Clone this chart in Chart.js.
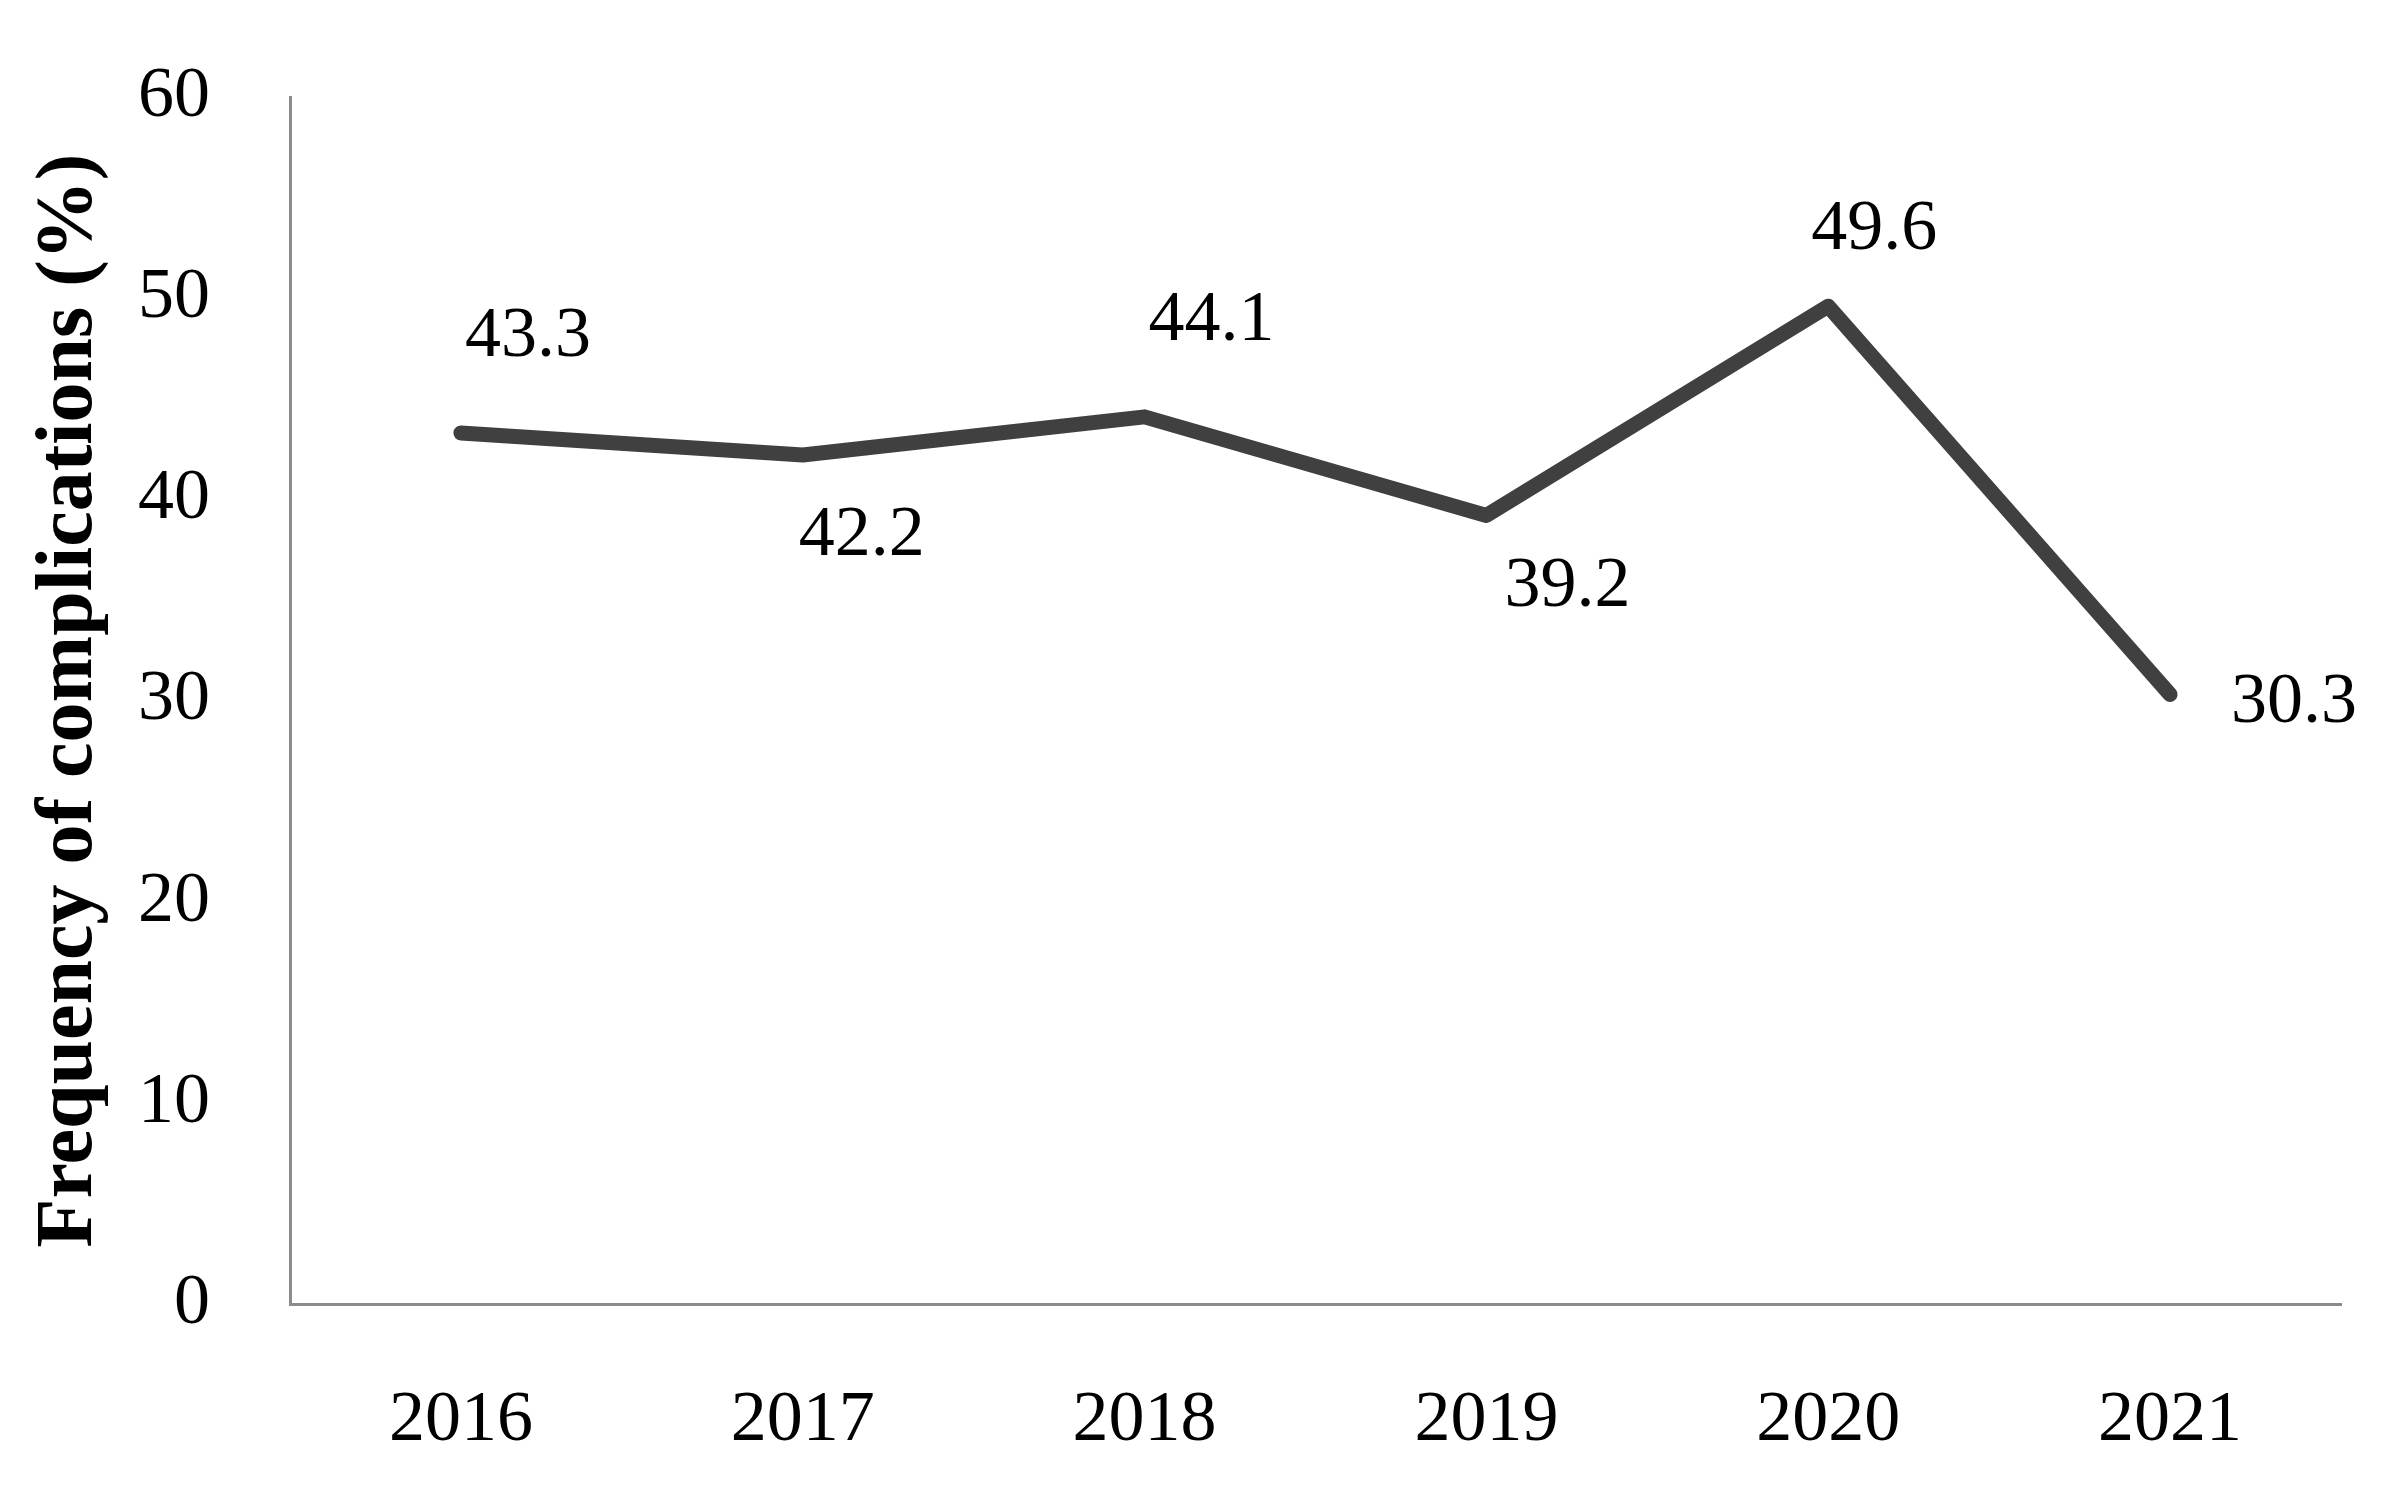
<!DOCTYPE html>
<html>
<head>
<meta charset="utf-8">
<script src="https://cdn.jsdelivr.net/npm/chart.js@4"></script>
<style>
  html, body { margin: 0; padding: 0; background: #fff; }
  #wrap { width: 2390px; height: 1495px; }
</style>
</head>
<body>
<div id="wrap"><canvas id="lineChart"></canvas></div>
<script>
const years = ["2016", "2017", "2018", "2019", "2020", "2021"];
const complications = [43.3, 42.2, 44.1, 39.2, 49.6, 30.3];
const yTicks = [0, 10, 20, 30, 40, 50, 60];

// where each value label sits relative to its point (px)
const labelOffsets = [[67, -96], [59, 81], [67, -96], [81, 72], [46, -76], [124, 9]];

const serif = "'Liberation Serif', 'Times New Roman', serif";

const valueLabels = {
    id: "valueLabels",
    afterDatasetsDraw(chart) {
        const ctx = chart.ctx;
        const meta = chart.getDatasetMeta(0);
        ctx.save();
        ctx.font = "72px " + serif;
        ctx.fillStyle = "#000";
        ctx.textAlign = "center";
        ctx.textBaseline = "middle";
        meta.data.forEach((pt, i) => {
            const off = labelOffsets[i];
            ctx.fillText(complications[i].toFixed(1), pt.x + off[0], pt.y + off[1]);
        });
        ctx.restore();
    }
};

const chartCtx = document.getElementById("lineChart").getContext("2d");
new Chart(chartCtx, {
    type: "line",
    data: {
        labels: years,
        datasets: [{
            label: "Frequency of complications (%)",
            data: complications,
            borderColor: "#404040",
            borderWidth: 15,
            borderCapStyle: "round",
            borderJoinStyle: "round",
            pointRadius: 0,
            tension: 0,
            fill: false
        }]
    },
    options: {
        responsive: true,
        maintainAspectRatio: false,
        animation: false,
        layout: {
            padding: {top: 97, right: 49, bottom: 0, left: 0}
        },
        plugins: {
            legend: {display: false},
            tooltip: {enabled: false}
        },
        scales: {
            x: {
                offset: true,
                grid: {display: false, drawTicks: false},
                border: {display: true, color: "#8c8c8c", width: 3},
                ticks: {
                    color: "#000",
                    padding: 74,
                    font: {family: serif, size: 72}
                },
                afterFit: scale => { scale.height = 191; }
            },
            y: {
                min: 0,
                max: 60,
                afterBuildTicks: scale => {
                    scale.ticks = yTicks.map(v => ({value: v}));
                },
                grid: {display: false, drawTicks: false},
                border: {display: true, color: "#8c8c8c", width: 3},
                ticks: {
                    color: "#000",
                    padding: 80,
                    font: {family: serif, size: 72}
                },
                title: {
                    display: true,
                    text: "Frequency of complications (%)",
                    color: "#000",
                    font: {family: serif, size: 80, weight: "bold"},
                    padding: {top: 22, bottom: 0}
                },
                afterFit: scale => {
                    scale.width = 290;
                    scale.paddingTop = 0;
                    scale.paddingBottom = 0;
                }
            }
        }
    },
    plugins: [valueLabels]
});
</script>
</body>
</html>
